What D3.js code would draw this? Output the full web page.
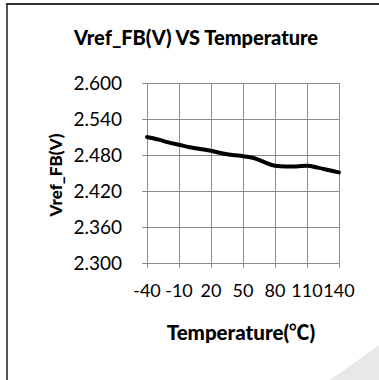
<!DOCTYPE html>
<html>
<head>
<meta charset="utf-8">
<script src="https://cdn.jsdelivr.net/npm/d3@7"></script>
<style>
  html, body { margin: 0; padding: 0; background: #fff; }
  svg { display: block; }
</style>
</head>
<body>
<svg id="chart"></svg>
<script>
// data
const temps = [-40, -30, -20, -10, 0, 10, 20, 30, 40, 50, 60, 70, 80, 90, 100, 110, 120, 130, 140];
const vref = [2.510, 2.506, 2.501, 2.497, 2.493, 2.490, 2.487, 2.483, 2.480, 2.478, 2.475, 2.468, 2.462, 2.461, 2.461, 2.462, 2.459, 2.455, 2.451];
const xTicks = [-40, -10, 20, 50, 80, 110, 140];
const yTicks = [2.300, 2.360, 2.420, 2.480, 2.540, 2.600];
const title = "Vref_FB(V) VS Temperature";
const xTitle = "Temperature(";
const xUnit = "℃";
const yTitle = "Vref_FB(V)";

const W = 379, H = 380;
const font = "Lato, 'Open Sans', sans-serif";
let svg = d3.select("#chart").attr("width", W).attr("height", H);

// faint page shape in the corner
svg.append("path").attr("d", "M330,380 L379,345 L379,380 Z").style("fill", "#e8e8e8");

// chart frame (only left and top edges are visible)
svg.append("line").attr("x1", 7).attr("y1", 3).attr("x2", 7).attr("y2", H).style("stroke", "#555").style("stroke-width", 2);
svg.append("line").attr("x1", 6).attr("y1", 4).attr("x2", W).attr("y2", 4).style("stroke", "#333").style("stroke-width", 2);

const x = d3.scaleLinear().domain([-40, 140]).range([147, 339]);
const y = d3.scaleLinear().domain([2.3, 2.6]).range([263, 83]);

// grid
let grid = svg.append("g").style("stroke", "#8c8c8c").style("stroke-width", 1).style("shape-rendering", "crispEdges");
grid.selectAll(".gx").data(xTicks).enter().append("line")
  .attr("x1", d => Math.round(x(d)) + 0.5).attr("x2", d => Math.round(x(d)) + 0.5)
  .attr("y1", y(2.6)).attr("y2", y(2.3) + 5);
grid.selectAll(".gy").data(yTicks).enter().append("line")
  .attr("y1", d => Math.round(y(d)) + 0.5).attr("y2", d => Math.round(y(d)) + 0.5)
  .attr("x1", x(-40) - 5).attr("x2", x(140));

// tick labels
svg.append("g").selectAll("text").data(yTicks).enter().append("text")
  .attr("x", 122).attr("y", d => y(d)).attr("dy", "0.35em")
  .attr("text-anchor", "end")
  .style("font-family", font).style("font-size", "19px").style("fill", "#000")
  .text(d => d3.format(".3f")(d));
svg.append("g").selectAll("text").data(xTicks).enter().append("text")
  .attr("x", d => x(d)).attr("y", 297)
  .attr("text-anchor", "middle")
  .style("font-family", font).style("font-size", "18px").style("fill", "#000")
  .text(d => d);

// the curve
const line = d3.line().x((d, i) => x(temps[i])).y(d => y(d)).curve(d3.curveMonotoneX);
svg.append("path").attr("d", line(vref))
  .style("fill", "none").style("stroke", "#000").style("stroke-width", 4)
  .style("stroke-linejoin", "round").style("stroke-linecap", "round");

// titles
svg.append("text").attr("x", 196).attr("y", 45).attr("text-anchor", "middle")
  .style("font-family", font).style("font-weight", "900").style("font-size", "20px")
  .text(title);
let xt = svg.append("text").attr("x", 241).attr("y", 340).attr("text-anchor", "middle")
  .style("font-family", font).style("font-weight", "900").style("font-size", "20.5px");
xt.append("tspan").text(xTitle);
xt.append("tspan").style("font-family", "'Noto Sans CJK SC'").style("font-weight", "bold").text(xUnit);
xt.append("tspan").text(")");
svg.append("text").attr("transform", "translate(62,175) rotate(-90)").attr("text-anchor", "middle")
  .style("font-family", font).style("font-weight", "900").style("font-size", "17px")
  .text(yTitle);
</script>
</body>
</html>
